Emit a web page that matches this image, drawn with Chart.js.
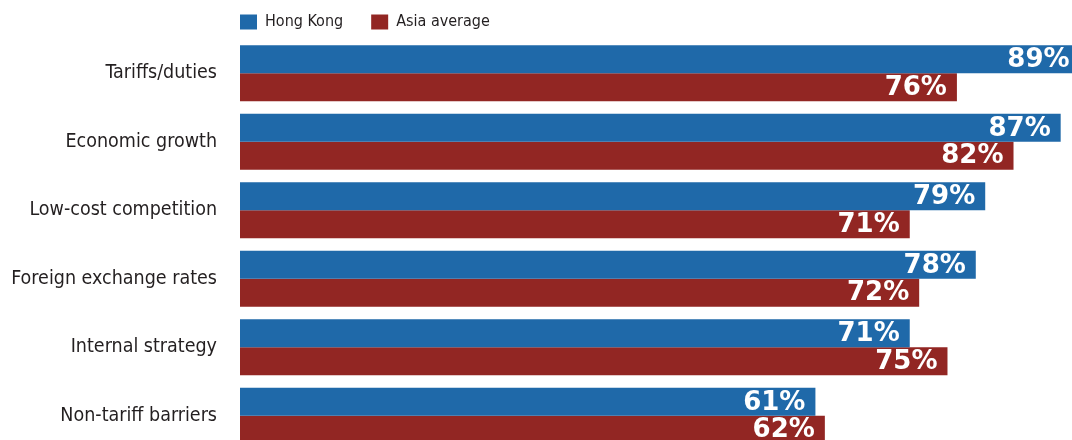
<!DOCTYPE html>
<html>
<head>
<meta charset="utf-8">
<script src="https://cdn.jsdelivr.net/npm/chart.js@4.4.1/dist/chart.umd.min.js"></script>
<style>
  html, body { margin: 0; padding: 0; background: #ffffff; overflow: hidden; }
  #wrap { position: relative; width: 1072px; height: 450px; }
</style>
</head>
<body>
<div id="wrap"><canvas id="chart"></canvas></div>
<script>
// Concerns survey: Hong Kong vs Asia average (%)
const categories = [
    'Tariffs/duties',
    'Economic growth',
    'Low-cost competition',
    'Foreign exchange rates',
    'Internal strategy',
    'Non-tariff barriers'
];
const hongKong = [89, 87, 79, 78, 71, 61];
const asiaAverage = [76, 82, 71, 72, 75, 62];

const BLUE = '#1f69a9';
const RED = '#922623';
const TEXT_FONT = '"DejaVu Sans Condensed", "DejaVu Sans", sans-serif';

// move the legend so it starts at the plot's left edge
const legendShift = {
    id: 'legendShift',
    afterLayout(chart) {
        const lg = chart.legend;
        if (!lg) return;
        const pad = lg.options.labels.padding;
        lg.left = chart.chartArea.left - pad;
        lg.top = 14 - pad;
    }
};

// white % labels inside the bar ends
const barValueLabels = {
    id: 'barValueLabels',
    afterDatasetsDraw(chart) {
        const ctx = chart.ctx;
        ctx.save();
        ctx.font = 'bold 26px "DejaVu Sans", sans-serif';
        ctx.fillStyle = '#ffffff';
        ctx.textAlign = 'right';
        ctx.textBaseline = 'middle';
        chart.data.datasets.forEach((ds, i) => {
            const meta = chart.getDatasetMeta(i);
            meta.data.forEach((bar, j) => {
                ctx.fillText(ds.data[j] + '%', bar.x - 10, bar.y + 1);
            });
        });
        ctx.restore();
    }
};

const ctx = document.getElementById('chart').getContext('2d');
const chart = new Chart(ctx, {
    type: 'bar',
    data: {
        labels: categories,
        datasets: [
            {
                label: 'Hong Kong',
                data: hongKong,
                backgroundColor: BLUE,
                borderWidth: 0,
                categoryPercentage: 0.8175,
                barPercentage: 1.0
            },
            {
                label: 'Asia average',
                data: asiaAverage,
                backgroundColor: RED,
                borderWidth: 0,
                categoryPercentage: 0.8175,
                barPercentage: 1.0
            }
        ]
    },
    options: {
        indexAxis: 'y',
        responsive: true,
        maintainAspectRatio: false,
        animation: false,
        layout: { padding: 0 },
        plugins: {
            legend: {
                position: 'top',
                align: 'start',
                maxHeight: 39,
                labels: {
                    boxWidth: 17,
                    boxHeight: 15,
                    padding: 28,
                    color: '#231f20',
                    font: { family: TEXT_FONT, size: 16 }
                }
            },
            tooltip: { enabled: false }
        },
        scales: {
            x: {
                display: false,
                min: 0,
                max: 88.2
            },
            y: {
                grid: { display: false, drawTicks: false },
                border: { display: false },
                ticks: {
                    padding: 23,
                    color: '#231f20',
                    font: { family: TEXT_FONT, size: 19.5 }
                },
                afterFit(scale) {
                    scale.width = 240;
                    scale.paddingTop = 0;
                    scale.paddingBottom = 0;
                }
            }
        }
    },
    plugins: [legendShift, barValueLabels]
});
</script>
</body>
</html>
